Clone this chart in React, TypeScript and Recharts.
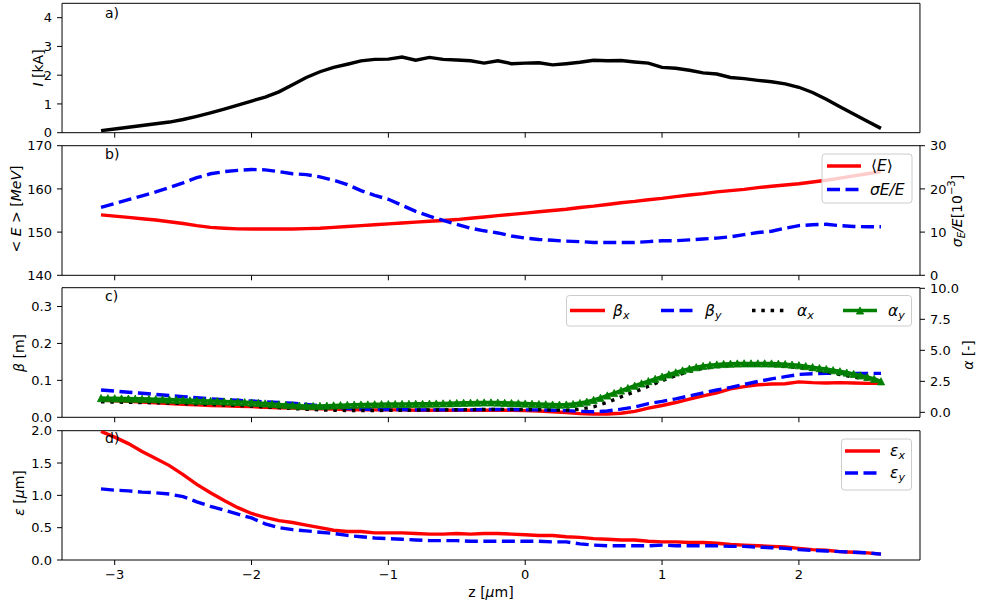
import React from 'react';
import { LineChart, Line, XAxis, YAxis, ReferenceLine } from 'recharts';

// longitudinal position z [um], coarse and fine grids
const Z = [
  -3.1, -3.0, -2.9, -2.8, -2.7, -2.6, -2.5, -2.4, -2.3, -2.2, -2.1, -2.0, -1.9, -1.8, -1.7, -1.6,
  -1.5, -1.4, -1.3, -1.2, -1.1, -1.0, -0.9, -0.8, -0.7, -0.6, -0.5, -0.4, -0.3, -0.2, -0.1, 0.0,
  0.1, 0.2, 0.3, 0.4, 0.5, 0.6, 0.7, 0.8, 0.9, 1.0, 1.1, 1.2, 1.3, 1.4, 1.5, 1.6, 1.7, 1.8, 1.9,
  2.0, 2.1, 2.2, 2.3, 2.4, 2.5, 2.6,
];
const Z_FINE = [
  -3.1, -3.05, -3.0, -2.95, -2.9, -2.85, -2.8, -2.75, -2.7, -2.65, -2.6, -2.55, -2.5, -2.45, -2.4,
  -2.35, -2.3, -2.25, -2.2, -2.15, -2.1, -2.05, -2.0, -1.95, -1.9, -1.85, -1.8, -1.75, -1.7, -1.65,
  -1.6, -1.55, -1.5, -1.45, -1.4, -1.35, -1.3, -1.25, -1.2, -1.15, -1.1, -1.05, -1.0, -0.95, -0.9,
  -0.85, -0.8, -0.75, -0.7, -0.65, -0.6, -0.55, -0.5, -0.45, -0.4, -0.35, -0.3, -0.25, -0.2, -0.15,
  -0.1, -0.05, 0.0, 0.05, 0.1, 0.15, 0.2, 0.25, 0.3, 0.35, 0.4, 0.45, 0.5, 0.55, 0.6, 0.65, 0.7,
  0.75, 0.8, 0.85, 0.9, 0.95, 1.0, 1.05, 1.1, 1.15, 1.2, 1.25, 1.3, 1.35, 1.4, 1.45, 1.5, 1.55, 1.6,
  1.65, 1.7, 1.75, 1.8, 1.85, 1.9, 1.95, 2.0, 2.05, 2.1, 2.15, 2.2, 2.25, 2.3, 2.35, 2.4, 2.45, 2.5,
  2.55, 2.6,
];

// a) current [kA]
const CURRENT = [
  0.07, 0.13, 0.19, 0.25, 0.31, 0.37, 0.46, 0.57, 0.69, 0.82, 0.96, 1.10, 1.24, 1.42, 1.67, 1.92,
  2.12, 2.27, 2.38, 2.50, 2.55, 2.56, 2.63, 2.52, 2.62, 2.55, 2.53, 2.50, 2.42, 2.50, 2.40, 2.42,
  2.43, 2.36, 2.40, 2.45, 2.52, 2.50, 2.51, 2.46, 2.42, 2.27, 2.24, 2.17, 2.08, 2.04, 1.92, 1.88,
  1.82, 1.77, 1.70, 1.58, 1.40, 1.16, 0.90, 0.65, 0.40, 0.15,
];

// b) mean energy [MeV] and relative spread [1e-3]
const E_MEAN = [
  154.0, 153.7, 153.4, 153.1, 152.8, 152.4, 152.0, 151.5, 151.1, 150.9, 150.75, 150.7, 150.7, 150.7,
  150.7, 150.8, 150.9, 151.1, 151.3, 151.5, 151.7, 151.9, 152.1, 152.3, 152.5, 152.7, 152.9, 153.2,
  153.5, 153.8, 154.1, 154.4, 154.7, 155.0, 155.3, 155.7, 156.0, 156.4, 156.8, 157.1, 157.5, 157.8,
  158.2, 158.6, 158.9, 159.3, 159.6, 159.9, 160.3, 160.6, 160.9, 161.2, 161.6, 162.0, 162.5, 163.0,
  163.5, 164.0,
];
const E_SPREAD = [
  15.7, 16.6, 17.5, 18.4, 19.3, 20.3, 21.4, 22.6, 23.5, 24.0, 24.3, 24.5, 24.4, 24.0, 23.5, 23.3,
  22.8, 22.0, 21.0, 19.6, 18.5, 17.6, 16.2, 14.8, 13.7, 12.7, 11.8, 10.9, 10.3, 9.8, 9.1, 8.6, 8.3,
  8.1, 7.9, 7.8, 7.6, 7.6, 7.6, 7.6, 7.8, 8.0, 8.0, 8.2, 8.4, 8.6, 8.9, 9.4, 9.9, 10.2, 10.9, 11.5,
  11.7, 11.8, 11.5, 11.3, 11.25, 11.25,
];

// c) twiss beta [m] and alpha [-]
const BETA_X = [
  0.047, 0.045, 0.043, 0.041, 0.039, 0.037, 0.035, 0.034, 0.032, 0.031, 0.030, 0.029, 0.027, 0.026,
  0.025, 0.024, 0.023, 0.022, 0.021, 0.020, 0.020, 0.020, 0.020, 0.019, 0.019, 0.019, 0.019, 0.019,
  0.019, 0.019, 0.019, 0.018, 0.017, 0.015, 0.013, 0.010, 0.009, 0.009, 0.011, 0.016, 0.025, 0.032,
  0.040, 0.049, 0.058, 0.066, 0.077, 0.083, 0.088, 0.090, 0.091, 0.096, 0.094, 0.093, 0.094, 0.093,
  0.092, 0.092,
];
const BETA_Y = [
  0.074, 0.071, 0.068, 0.065, 0.062, 0.059, 0.056, 0.053, 0.050, 0.048, 0.046, 0.044, 0.042, 0.040,
  0.038, 0.035, 0.031, 0.027, 0.024, 0.022, 0.021, 0.021, 0.021, 0.020, 0.020, 0.020, 0.020, 0.020,
  0.021, 0.021, 0.021, 0.020, 0.020, 0.019, 0.018, 0.016, 0.015, 0.017, 0.022, 0.028, 0.037, 0.043,
  0.050, 0.058, 0.066, 0.074, 0.081, 0.089, 0.097, 0.104, 0.110, 0.116, 0.118, 0.119, 0.119, 0.119,
  0.119, 0.119,
];
const ALPHA_X = [
  0.85, 0.83, 0.81, 0.79, 0.77, 0.74, 0.71, 0.67, 0.63, 0.59, 0.55, 0.50, 0.44, 0.38, 0.31, 0.25,
  0.20, 0.17, 0.15, 0.14, 0.15, 0.16, 0.17, 0.18, 0.19, 0.20, 0.21, 0.22, 0.23, 0.24, 0.24, 0.23,
  0.21, 0.19, 0.18, 0.25, 0.45, 0.80, 1.25, 1.65, 2.10, 2.55, 2.95, 3.30, 3.55, 3.70, 3.78, 3.82,
  3.82, 3.80, 3.72, 3.60, 3.45, 3.27, 3.05, 2.85, 2.70, 2.60,
];
const ALPHA_Y = [
  1.15, 1.14, 1.13, 1.12, 1.11, 1.10, 1.09, 1.08, 1.06, 1.05, 1.03, 1.01, 0.99, 0.97, 0.95, 0.93,
  0.92, 0.90, 0.88, 0.86, 0.84, 0.82, 0.79, 0.76, 0.72, 0.68, 0.64, 0.60, 0.57, 0.54, 0.52, 0.51,
  0.52, 0.54, 0.56, 0.58, 0.60, 0.62, 0.63, 0.64, 0.65, 0.66, 0.67, 0.67, 0.68, 0.68, 0.69, 0.69,
  0.70, 0.71, 0.72, 0.73, 0.75, 0.77, 0.78, 0.79, 0.80, 0.80, 0.79, 0.77, 0.75, 0.73, 0.71, 0.69,
  0.67, 0.65, 0.63, 0.62, 0.63, 0.67, 0.75, 0.86, 1.00, 1.17, 1.36, 1.56, 1.76, 1.96, 2.15, 2.33,
  2.52, 2.70, 2.88, 3.06, 3.22, 3.38, 3.52, 3.64, 3.74, 3.81, 3.86, 3.90, 3.92, 3.94, 3.95, 3.95,
  3.95, 3.95, 3.94, 3.92, 3.89, 3.85, 3.80, 3.73, 3.65, 3.57, 3.49, 3.40, 3.31, 3.21, 3.10, 2.98,
  2.85, 2.70, 2.50,
];

// d) emittance [um]
const EMIT_X = [
  1.99, 1.90, 1.80, 1.68, 1.57, 1.46, 1.32, 1.17, 1.04, 0.92, 0.81, 0.72, 0.66, 0.61, 0.58, 0.54,
  0.50, 0.46, 0.44, 0.44, 0.42, 0.42, 0.42, 0.41, 0.40, 0.40, 0.41, 0.40, 0.41, 0.41, 0.40, 0.39,
  0.38, 0.38, 0.36, 0.35, 0.33, 0.32, 0.31, 0.31, 0.29, 0.28, 0.28, 0.27, 0.27, 0.26, 0.24, 0.23,
  0.22, 0.21, 0.20, 0.18, 0.16, 0.15, 0.13, 0.12, 0.11, 0.09,
];
const EMIT_Y = [
  1.10, 1.08, 1.07, 1.05, 1.04, 1.02, 0.98, 0.90, 0.83, 0.77, 0.71, 0.65, 0.56, 0.50, 0.47, 0.45,
  0.43, 0.41, 0.38, 0.36, 0.34, 0.33, 0.32, 0.31, 0.30, 0.30, 0.30, 0.29, 0.29, 0.29, 0.29, 0.29,
  0.29, 0.28, 0.28, 0.25, 0.23, 0.22, 0.22, 0.22, 0.22, 0.23, 0.22, 0.22, 0.22, 0.22, 0.21, 0.21,
  0.20, 0.19, 0.18, 0.16, 0.15, 0.14, 0.13, 0.12, 0.11, 0.09,
];

const X_TICKS = [-3, -2, -1, 0, 1, 2];
const X_DOMAIN: [number, number] = [-3.385, 2.885];
const I_TICKS = [0, 1, 2, 3, 4];
const E_TICKS = [140, 150, 160, 170];
const SPREAD_TICKS = [0, 10, 20, 30];
const BETA_TICKS = [0, 0.1, 0.2, 0.3];
const ALPHA_TICKS = [0, 2.5, 5, 7.5, 10];
const EMIT_TICKS = [0, 0.5, 1, 1.5, 2];

const rows = Z.map((z, i) => ({
  z,
  current: CURRENT[i],
  eMean: E_MEAN[i],
  eSpread: E_SPREAD[i],
  betaX: BETA_X[i],
  betaY: BETA_Y[i],
  alphaX: ALPHA_X[i],
  emitX: EMIT_X[i],
  emitY: EMIT_Y[i],
}));
const fineRows = Z_FINE.map((z, i) => ({ z, alphaY: ALPHA_Y[i] }));

const FONT = 'DejaVu Sans, sans-serif';
const FS = 14; // axis titles
const LEG = 15.5; // legend labels
const LW = 3.4;
const DASH = '13 5.5';
const DOT = '3.5 5.8';
const RED = '#ff0000';
const BLUE = '#0000ff';
const GREEN = '#008000';
const TICK = { fill: '#000', fontSize: 13, fontFamily: FONT };

const signed = (v: number, digits = 0) => {
  const s = Math.abs(v).toFixed(digits);
  return v < 0 ? '\u2212' + s : s;
};

function xAxis(labels: boolean) {
  return (
    <XAxis
      dataKey="z"
      type="number"
      domain={X_DOMAIN}
      ticks={X_TICKS}
      allowDataOverflow
      interval={0}
      height={labels ? 48 : 10}
      stroke="#000"
      tickSize={5}
      tickMargin={5}
      tick={TICK}
      tickFormatter={labels ? (v: number) => signed(v) : () => ''}
    />
  );
}

function yAxis(id: string, domain: [number, number], ticks: number[], digits: number, right = false) {
  return (
    <YAxis
      yAxisId={id}
      orientation={right ? 'right' : 'left'}
      type="number"
      domain={domain}
      ticks={ticks}
      allowDataOverflow
      interval={0}
      width={right ? 64 : 62}
      stroke="#000"
      tickSize={5}
      tickMargin={5}
      tick={TICK}
      tickFormatter={(v: number) => signed(v, digits)}
    />
  );
}

const triangle = (props: any) => {
  const { cx, cy, index } = props;
  if (cx == null || cy == null) return <g key={index} />;
  const h = 3.6;
  return (
    <path
      key={index}
      d={`M${cx},${cy - h}L${cx - h},${cy + h}L${cx + h},${cy + h}Z`}
      fill={GREEN}
      stroke={GREEN}
      strokeWidth={0.8}
    />
  );
};

const abs = { position: 'absolute' as const, left: 0, top: 0 };

function Overlay() {
  const t = { fontSize: FS, fontFamily: FONT, fill: '#000' };
  const lt = { fontSize: LEG, fontFamily: FONT, fill: '#000' };
  const it = { fontStyle: 'italic' as const };
  const sub = { fontStyle: 'italic' as const, fontSize: 11, dy: 4 };
  const legendBox = (x: number, y: number, w: number, h: number) => (
    <rect x={x} y={y} width={w} height={h} rx={3} fill="#fff" fillOpacity={0.8} stroke="#cccccc" strokeWidth={1} />
  );
  return (
    <svg width={984} height={608} style={{ ...abs, pointerEvents: 'none' }}>
      {/* panel tags */}
      <text x={105} y={13} dominantBaseline="central" {...t}>a)</text>
      <text x={105} y={154} dominantBaseline="central" {...t}>b)</text>
      <text x={105} y={296} dominantBaseline="central" {...t}>c)</text>
      <text x={105} y={438} dominantBaseline="central" {...t}>d)</text>

      {/* axis titles */}
      <text transform="translate(37.5,68) rotate(-90)" textAnchor="middle" dominantBaseline="central" {...t}>
        <tspan {...it}>I</tspan>
        {' [kA]'}
      </text>
      <text transform="translate(16,209) rotate(-90)" textAnchor="middle" dominantBaseline="central" {...t}>
        {'< '}
        <tspan {...it}>E</tspan>
        {' > ['}
        <tspan {...it}>MeV</tspan>
        {']'}
      </text>
      <text transform="translate(19,353) rotate(-90)" textAnchor="middle" dominantBaseline="central" {...t}>
        <tspan {...it}>β</tspan>
        {' [m]'}
      </text>
      <text transform="translate(19,493) rotate(-90)" textAnchor="middle" dominantBaseline="central" {...t}>
        <tspan {...it}>ε</tspan>
        {' ['}
        <tspan {...it}>μ</tspan>
        {'m]'}
      </text>
      <text transform="translate(957,211) rotate(-90)" textAnchor="middle" dominantBaseline="central" {...t}>
        <tspan {...it}>σ</tspan>
        <tspan {...it} fontSize={10} dy={4}>E</tspan>
        <tspan {...it} dy={-4}>/E</tspan>
        {'[10'}
        <tspan fontSize={10} dy={-6}>−3</tspan>
        <tspan dy={6}>]</tspan>
      </text>
      <text transform="translate(968,355) rotate(-90)" textAnchor="middle" dominantBaseline="central" {...t}>
        <tspan {...it}>α</tspan>
        {' [-]'}
      </text>
      <text x={491} y={592} textAnchor="middle" dominantBaseline="central" {...t}>
        {'z ['}
        <tspan {...it}>μ</tspan>
        {'m]'}
      </text>

      {/* legend b */}
      {legendBox(822, 154, 90, 49)}
      <line x1={827} x2={861} y1={166} y2={166} stroke={RED} strokeWidth={LW} />
      <text x={871} y={166} dominantBaseline="central" {...lt}>
        {'⟨'}
        <tspan {...it}>E</tspan>
        {'⟩'}
      </text>
      <line x1={827} x2={861} y1={189.5} y2={189.5} stroke={BLUE} strokeWidth={LW} strokeDasharray={DASH} />
      <text x={870} y={189.5} dominantBaseline="central" {...lt}>
        <tspan {...it}>σE/E</tspan>
      </text>

      {/* legend c */}
      {legendBox(566.5, 295.5, 345, 30.5)}
      <line x1={570} x2={605} y1={310.5} y2={310.5} stroke={RED} strokeWidth={LW} />
      <text x={613} y={310.5} dominantBaseline="central" {...lt}>
        <tspan {...it}>β</tspan>
        <tspan {...sub}>x</tspan>
      </text>
      <line x1={661} x2={695} y1={310.5} y2={310.5} stroke={BLUE} strokeWidth={LW} strokeDasharray={DASH} />
      <text x={705} y={310.5} dominantBaseline="central" {...lt}>
        <tspan {...it}>β</tspan>
        <tspan {...sub}>y</tspan>
      </text>
      <line x1={752} x2={786} y1={310.5} y2={310.5} stroke="#000" strokeWidth={LW} strokeDasharray={DOT} />
      <text x={797} y={310.5} dominantBaseline="central" {...lt}>
        <tspan {...it}>α</tspan>
        <tspan {...sub}>x</tspan>
      </text>
      <line x1={843} x2={877} y1={310.5} y2={310.5} stroke={GREEN} strokeWidth={LW} />
      {triangle({ cx: 860, cy: 310.5, index: 'leg' })}
      <text x={888} y={310.5} dominantBaseline="central" {...lt}>
        <tspan {...it}>α</tspan>
        <tspan {...sub}>y</tspan>
      </text>

      {/* legend d */}
      {legendBox(841.5, 439, 70, 51)}
      <line x1={845} x2={880} y1={451} y2={451} stroke={RED} strokeWidth={LW} />
      <text x={890} y={451} dominantBaseline="central" {...lt}>
        <tspan {...it}>ε</tspan>
        <tspan {...sub}>x</tspan>
      </text>
      <line x1={845} x2={880} y1={473} y2={473} stroke={BLUE} strokeWidth={LW} strokeDasharray={DASH} />
      <text x={890} y={473} dominantBaseline="central" {...lt}>
        <tspan {...it}>ε</tspan>
        <tspan {...sub}>y</tspan>
      </text>
    </svg>
  );
}

export default function App() {
  return (
    <div style={{ position: 'fixed', left: 0, top: 0, width: 984, height: 608, background: '#fff', fontFamily: FONT }}>
      {/* a) current */}
      <div style={abs}>
        <LineChart width={984} height={142.7} data={rows} margin={{ top: 3.3, right: 64, bottom: 0, left: 0 }}>
          {xAxis(false)}
          {yAxis('l', [0, 4.5], I_TICKS, 0)}
          <ReferenceLine yAxisId="l" y={4.5} stroke="#000" ifOverflow="visible" />
          <ReferenceLine yAxisId="l" x={X_DOMAIN[1]} stroke="#000" ifOverflow="visible" />
          <Line yAxisId="l" type="linear" dataKey="current" stroke="#000" strokeWidth={LW} dot={false} isAnimationActive={false} />
        </LineChart>
      </div>

      {/* b) energy */}
      <div style={abs}>
        <LineChart width={984} height={285.3} data={rows} margin={{ top: 145.7, right: 0, bottom: 0, left: 0 }}>
          {xAxis(false)}
          {yAxis('l', [140, 170], E_TICKS, 0)}
          {yAxis('r', [0, 30], SPREAD_TICKS, 0, true)}
          <ReferenceLine yAxisId="l" y={170} stroke="#000" ifOverflow="visible" />
          <Line yAxisId="l" type="linear" dataKey="eMean" stroke={RED} strokeWidth={LW} dot={false} isAnimationActive={false} />
          <Line yAxisId="r" type="linear" dataKey="eSpread" stroke={BLUE} strokeWidth={LW} strokeDasharray={DASH} dot={false} isAnimationActive={false} />
        </LineChart>
      </div>

      {/* c) twiss */}
      <div style={abs}>
        <LineChart width={984} height={427.3} data={rows} margin={{ top: 287.7, right: 0, bottom: 0, left: 0 }}>
          {xAxis(false)}
          {yAxis('l', [0, 0.351], BETA_TICKS, 1)}
          {yAxis('r', [-0.4, 10.05], ALPHA_TICKS, 1, true)}
          <ReferenceLine yAxisId="l" y={0.351} stroke="#000" ifOverflow="visible" />
          <Line yAxisId="l" type="linear" dataKey="betaX" stroke={RED} strokeWidth={LW} dot={false} isAnimationActive={false} />
          <Line yAxisId="l" type="linear" dataKey="betaY" stroke={BLUE} strokeWidth={LW} strokeDasharray={DASH} dot={false} isAnimationActive={false} />
          <Line yAxisId="r" type="linear" dataKey="alphaX" stroke="#000" strokeWidth={LW} strokeDasharray={DOT} dot={false} isAnimationActive={false} />
          <Line yAxisId="r" type="linear" data={fineRows} dataKey="alphaY" stroke={GREEN} strokeWidth={LW} dot={triangle} isAnimationActive={false} />
        </LineChart>
      </div>

      {/* d) emittance */}
      <div style={abs}>
        <LineChart width={984} height={608} data={rows} margin={{ top: 430.7, right: 64, bottom: 0, left: 0 }}>
          {xAxis(true)}
          {yAxis('l', [0, 2], EMIT_TICKS, 1)}
          <ReferenceLine yAxisId="l" y={2} stroke="#000" ifOverflow="visible" />
          <ReferenceLine yAxisId="l" x={X_DOMAIN[1]} stroke="#000" ifOverflow="visible" />
          <Line yAxisId="l" type="linear" dataKey="emitX" stroke={RED} strokeWidth={LW} dot={false} isAnimationActive={false} />
          <Line yAxisId="l" type="linear" dataKey="emitY" stroke={BLUE} strokeWidth={LW} strokeDasharray={DASH} dot={false} isAnimationActive={false} />
        </LineChart>
      </div>

      <Overlay />
    </div>
  );
}
